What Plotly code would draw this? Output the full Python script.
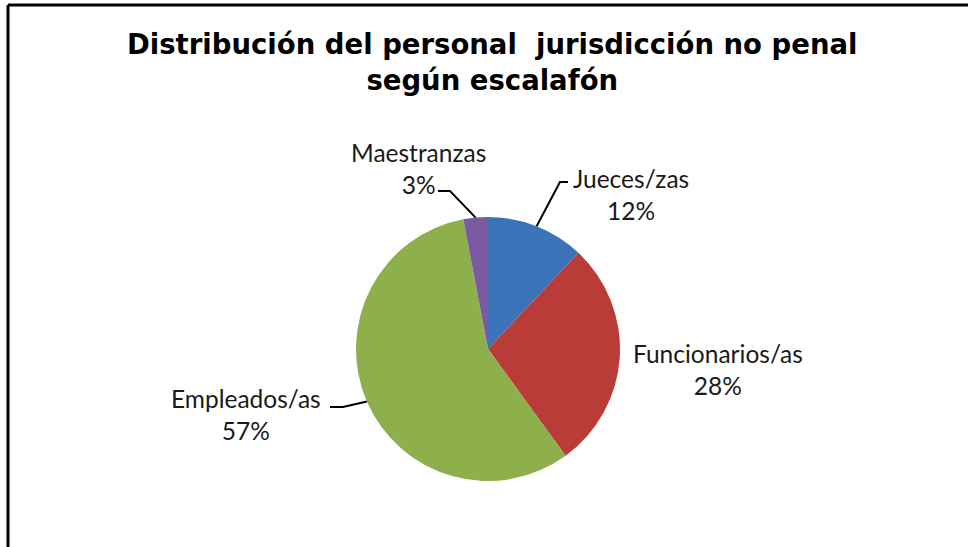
import math
import plotly.graph_objects as go

# ---- data ----
categories = ["Jueces/zas", "Funcionarios/as", "Empleados/as", "Maestranzas"]
values = [12, 28, 57, 3]
colors = ["#3C72B9", "#B93C38", "#8DB04C", "#7C5AA2"]

W, H = 968, 547
CX, CY, R = 488, 349, 132  # pie center / radius in pixels


def px(x):
    return x / W


def py(y):
    return 1 - y / H


fig = go.Figure()
fig.add_trace(go.Pie(
    labels=categories,
    values=values,
    sort=False,
    direction="clockwise",
    rotation=0,
    marker=dict(colors=colors, line=dict(width=0)),
    textinfo="none",
    hoverinfo="label+percent",
    showlegend=False,
    domain=dict(x=[px(CX - R), px(CX + R)], y=[py(CY + R), py(CY - R)]),
))

total = sum(values)
cum = 0
mid_angle = {}
for c, v in zip(categories, values):
    mid_angle[c] = (cum + v / 2) / total * 2 * math.pi
    cum += v


def edge(cat):
    a = mid_angle[cat]
    return CX + R * math.sin(a), CY - R * math.cos(a)


# label placement (text center in px, leader-line stub start/end in px)
label_pos = {
    "Jueces/zas": ((631, 194), [(568, 182), (560, 182)]),
    "Funcionarios/as": ((718, 369), None),
    "Empleados/as": ((246, 414), [(330, 407), (343, 407)]),
    "Maestranzas": ((418, 169), [(438, 191), (450, 191)]),
}

annotations = []
shapes = []
for cat, v in zip(categories, values):
    (tx, ty), stub = label_pos[cat]
    pct = round(v / total * 100)
    annotations.append(dict(
        x=px(tx), y=py(ty), xref="paper", yref="paper",
        text=f"{cat}<br>{pct}%", showarrow=False,
        font=dict(family="Lato, Carlito, sans-serif", size=24.5, color="#1a1a1a"),
        xanchor="center", yanchor="middle", align="center",
    ))
    if stub:
        ex, ey = edge(cat)
        pts = stub + [(ex, ey)]
        path = "M " + " L ".join(f"{px(x)},{py(y)}" for x, y in pts)
        shapes.append(dict(type="path", xref="paper", yref="paper", path=path,
                           line=dict(color="#000000", width=2)))

# title
annotations.append(dict(
    x=px(492), y=py(62), xref="paper", yref="paper",
    text="<b>Distribución del personal  jurisdicción no penal<br>según escalafón</b>",
    showarrow=False, xanchor="center", yanchor="middle", align="center",
    font=dict(family="DejaVu Sans, sans-serif", size=27.5, color="#000000"),
))

# chart border (top and left visible)
shapes.append(dict(type="line", xref="paper", yref="paper",
                   x0=px(8), y0=py(5), x1=1.0, y1=py(5),
                   line=dict(color="#000000", width=3)))
shapes.append(dict(type="line", xref="paper", yref="paper",
                   x0=px(8), y0=py(5), x1=px(8), y1=0,
                   line=dict(color="#000000", width=3)))

fig.update_layout(
    width=W, height=H,
    margin=dict(l=0, r=0, t=0, b=0),
    paper_bgcolor="white", plot_bgcolor="white",
    annotations=annotations, shapes=shapes,
)

fig.write_html(
    "out.html",
    config={"displayModeBar": False},
    post_script="document.body.style.margin='0';document.body.style.overflow='hidden';",
)
